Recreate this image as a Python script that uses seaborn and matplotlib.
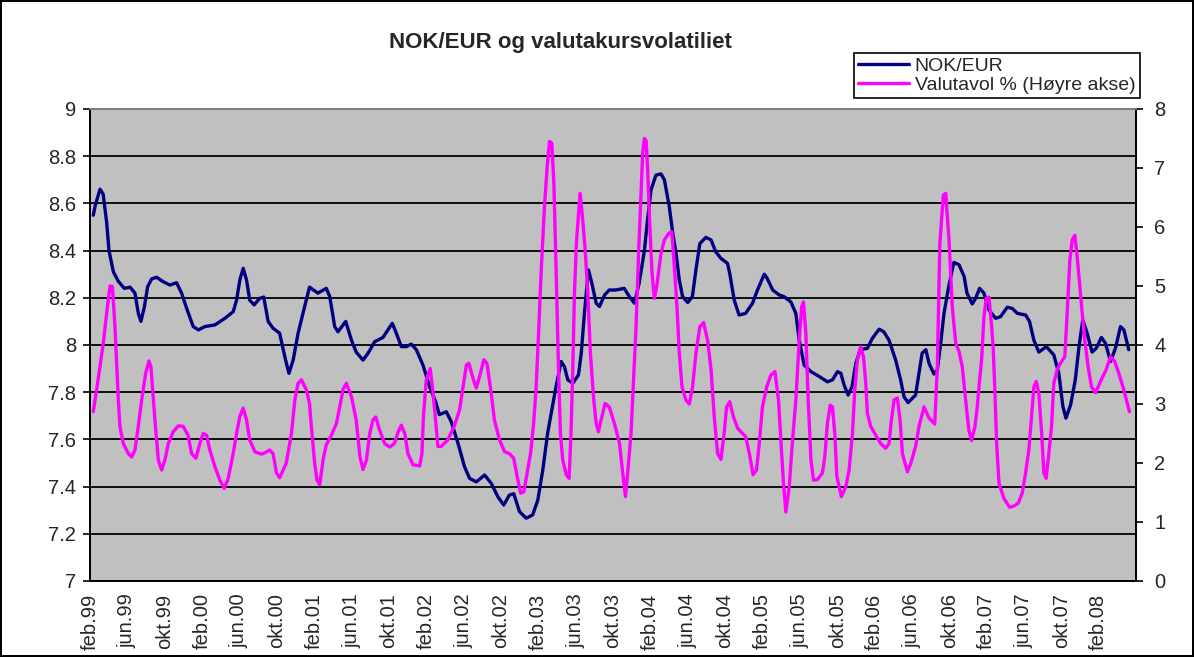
import matplotlib
matplotlib.use("Agg")
import matplotlib.pyplot as plt
import seaborn as sns
import pandas as pd
from matplotlib.lines import Line2D

# months since feb.99 and NOK/EUR readings
nok_month = [0.35, 0.55, 1.07, 1.4, 1.78, 2.03, 2.5, 3.03, 3.67, 4.28, 4.81, 5.17, 5.45, 5.81,
             6.17, 6.6, 7.13, 7.84, 8.56, 9.27, 9.8, 10.34, 11.05, 11.6, 12.3, 13.37, 14.44,
             15.33, 15.69, 16.04, 16.4, 16.76, 17.1, 17.57, 18.18, 18.6, 19.07, 19.6, 20.3,
             20.86, 21.3, 21.75, 22.28, 22.8, 23.5, 24.4, 25.3, 25.67, 26.2, 26.55, 27.38, 28.0,
             28.5, 29.23, 29.77, 30.48, 31.37, 31.9, 32.36, 32.8, 33.33, 33.87, 34.4, 34.94,
             35.65, 36.36, 37.0, 37.4, 38.15, 38.68, 39.4, 40.1, 40.64, 41.36, 42.25, 42.96,
             43.67, 44.3, 44.9, 45.37, 45.99, 46.7, 47.4, 47.95, 48.48, 49.0, 49.38, 49.9,
             50.45, 50.8, 51.16, 51.7, 52.3, 52.6, 52.94, 53.37, 53.7, 54.2, 54.55, 55.1,
             55.6, 56.3, 57.2, 57.75, 58.3, 58.8, 59.36, 59.7, 60.07, 60.6, 61.14, 61.5, 62.03,
             62.4, 62.75, 63.1, 63.45, 64.0, 64.5, 64.88, 65.3, 65.95, 66.5, 67.0, 67.56, 68.26,
             68.5, 68.98, 69.5, 70.2, 70.94, 71.47, 72.2, 72.5, 73.1, 73.8, 74.3, 75.04, 75.58,
             75.94, 76.47, 77.2, 78.1, 78.96, 79.5, 80.04, 80.4, 80.75, 81.18, 81.6, 82.0,
             82.46, 83.24, 83.77, 84.5, 85.0, 85.56, 86.27, 86.8, 87.17, 87.6, 88.4, 88.77,
             89.1, 89.5, 89.84, 90.37, 90.73, 91.09, 91.44, 91.98, 92.5, 93.05, 93.6, 93.9,
             94.47, 94.83, 95.25, 95.72, 96.26, 96.97, 97.5, 98.22, 98.75, 99.3, 100.18, 100.6,
             101.07, 101.6, 102.4, 103.2, 103.74, 104.17, 104.5, 105.0, 105.5, 105.9, 106.3,
             106.77, 107.3, 107.74, 108.3, 108.74, 109.27, 109.8, 110.34, 110.7, 111.23]
nok_value = [8.55, 8.59, 8.66, 8.64, 8.52, 8.40, 8.31, 8.27, 8.24, 8.245, 8.22, 8.134, 8.10, 8.16,
             8.247, 8.28, 8.287, 8.268, 8.254, 8.264, 8.22, 8.156, 8.078, 8.064, 8.078, 8.085,
             8.113, 8.141, 8.19, 8.275, 8.325, 8.275, 8.19, 8.17, 8.198, 8.203, 8.10, 8.071,
             8.05, 7.95, 7.88, 7.936, 8.05, 8.134, 8.245, 8.22, 8.24, 8.205, 8.078, 8.056, 8.10,
             8.02, 7.97, 7.936, 7.965, 8.014, 8.032, 8.064, 8.092, 8.05, 7.993, 7.993, 8.004,
             7.98, 7.915, 7.824, 7.76, 7.705, 7.717, 7.675, 7.584, 7.484, 7.435, 7.42, 7.449,
             7.414, 7.357, 7.322, 7.364, 7.37, 7.294, 7.266, 7.28, 7.343, 7.47, 7.626, 7.71,
             7.824, 7.93, 7.908, 7.852, 7.838, 7.873, 7.965, 8.134, 8.318, 8.268, 8.177, 8.163,
             8.212, 8.233, 8.233, 8.24, 8.205, 8.177, 8.262, 8.40, 8.53, 8.657, 8.72, 8.725,
             8.70, 8.586, 8.473, 8.389, 8.275, 8.205, 8.18, 8.205, 8.318, 8.43, 8.456, 8.445,
             8.395, 8.367, 8.346, 8.303, 8.19, 8.127, 8.134, 8.177, 8.233, 8.30, 8.283, 8.233,
             8.212, 8.205, 8.183, 8.134, 8.02, 7.915, 7.887, 7.866, 7.844, 7.852, 7.887, 7.88,
             7.83, 7.788, 7.824, 7.922, 7.98, 7.986, 8.028, 8.067, 8.056, 8.02, 7.936, 7.852,
             7.78, 7.756, 7.788, 7.88, 7.965, 7.98, 7.922, 7.877, 7.894, 8.007, 8.134, 8.254,
             8.35, 8.34, 8.29, 8.22, 8.174, 8.198, 8.24, 8.22, 8.148, 8.113, 8.12, 8.16, 8.155,
             8.134, 8.127, 8.10, 8.02, 7.97, 7.993, 7.958, 7.88, 7.74, 7.69, 7.746, 7.852,
             7.993, 8.106, 8.05, 7.97, 7.986, 8.032, 8.007, 7.93, 7.986, 8.078, 8.064, 7.98]

# months since feb.99 and volatility readings (right axis)
vol_month = [0.35, 0.89, 1.42, 1.78, 2.14, 2.4, 2.67, 3.03, 3.2, 3.56, 4.1, 4.46, 4.81, 5.17,
             5.53, 5.96, 6.31, 6.52, 6.95, 7.31, 7.67, 8.02, 8.38, 8.91, 9.45, 9.98, 10.5,
             10.87, 11.34, 11.76, 12.12, 12.48, 12.83, 13.37, 13.9, 14.37, 14.8, 15.33, 15.69,
             16.04, 16.4, 16.76, 17.1, 17.65, 18.36, 18.7, 19.25, 19.6, 19.97, 20.3, 21.0,
             21.57, 21.93, 22.28, 22.64, 23.17, 23.5, 23.7, 24.06, 24.3, 24.6, 24.95, 25.3,
             25.85, 26.38, 26.74, 27.1, 27.45, 28.0, 28.5, 28.9, 29.23, 29.6, 29.95, 30.3, 30.6,
             31.0, 31.55, 32.1, 32.6, 33.0, 33.33, 33.7, 34.04, 34.58, 35.3, 35.54, 35.7, 36.0,
             36.43, 36.7, 37.0, 37.25, 37.6, 38.3, 39.0, 39.57, 39.9, 40.3, 40.57, 41.0, 41.36,
             41.7, 42.17, 42.5, 42.96, 43.3, 43.85, 44.4, 44.9, 45.37, 45.74, 46.1, 46.45, 46.8,
             47.17, 47.5, 47.77, 48.0, 48.3, 48.66, 48.95, 49.2, 49.45, 49.67, 49.9, 50.16,
             50.37, 50.62, 51.0, 51.3, 51.5, 51.7, 51.87, 52.1, 52.34, 52.48, 52.76, 53.02,
             53.3, 53.58, 53.94, 54.2, 54.44, 54.73, 55.15, 55.6, 56.15, 56.7, 57.04, 57.33,
             57.57, 57.93, 58.18, 58.47, 58.75, 59.0, 59.18, 59.36, 59.54, 59.7, 59.9, 60.18,
             60.43, 60.68, 60.96, 61.14, 61.5, 61.96, 62.3, 62.57, 62.85, 63.1, 63.39, 63.8,
             64.17, 64.52, 64.88, 65.3, 65.7, 66.13, 66.5, 66.84, 67.2, 67.56, 67.9, 68.16,
             68.5, 68.88, 69.34, 69.87, 70.2, 70.6, 71.0, 71.37, 71.66, 72.0, 72.46, 72.9,
             73.34, 73.72, 73.98, 74.23, 74.51, 74.87, 75.2, 75.58, 75.94, 76.2, 76.4, 76.65,
             76.9, 77.2, 77.47, 77.9, 78.43, 78.68, 78.96, 79.25, 79.5, 79.75, 79.97, 80.45,
             80.93, 81.28, 81.64, 81.89, 82.17, 82.53, 82.82, 83.07, 83.24, 83.6, 84.14, 84.67,
             85.2, 85.56, 85.81, 86.1, 86.45, 86.74, 86.99, 87.52, 87.88, 88.4, 88.77, 89.3,
             89.84, 90.45, 90.73, 91.0, 91.37, 91.63, 91.98, 92.33, 92.7, 93.05, 93.4, 93.76,
             94.1, 94.4, 94.76, 95.0, 95.26, 95.47, 95.72, 95.97, 96.26, 96.55, 96.72, 96.9,
             97.08, 97.33, 97.86, 98.47, 98.93, 99.4, 99.82, 100.18, 100.53, 100.82, 101.07,
             101.32, 101.6, 101.9, 102.14, 102.38, 102.67, 102.96, 103.2, 103.56, 103.9,
             104.38, 104.63, 104.92, 105.17, 105.45, 105.7, 105.96, 106.24, 106.52, 106.88,
             107.24, 107.67, 107.95, 108.37, 108.8, 109.27, 109.73, 110.16, 110.7, 111.3]
vol_value = [2.87, 3.44, 4.03, 4.54, 5.0, 4.99, 4.31, 3.07, 2.62, 2.33, 2.16, 2.1, 2.22, 2.62,
             3.07, 3.52, 3.73, 3.63, 2.73, 2.05, 1.88, 2.05, 2.33, 2.53, 2.63, 2.62, 2.47, 2.16,
             2.08, 2.33, 2.5, 2.47, 2.22, 1.94, 1.71, 1.57, 1.74, 2.16, 2.5, 2.79, 2.93, 2.73,
             2.39, 2.19, 2.15, 2.17, 2.22, 2.16, 1.83, 1.75, 1.99, 2.5, 3.07, 3.35, 3.41, 3.24,
             3.01, 2.62, 1.99, 1.71, 1.63, 2.05, 2.31, 2.47, 2.67, 2.95, 3.25, 3.35, 3.12, 2.73,
             2.11, 1.89, 2.05, 2.5, 2.73, 2.78, 2.56, 2.33, 2.27, 2.33, 2.53, 2.64, 2.5, 2.16,
             1.97, 1.95, 2.16, 2.78, 3.41, 3.6, 3.24, 2.73, 2.28, 2.28, 2.39, 2.62, 2.9, 3.24,
             3.66, 3.69, 3.44, 3.27, 3.46, 3.75, 3.69, 3.18, 2.73, 2.39, 2.19, 2.16, 2.08, 1.77,
             1.49, 1.51, 1.83, 2.16, 2.67, 3.29, 4.08, 5.22, 6.34, 7.02, 7.45, 7.42, 6.74, 5.33,
             3.63, 2.5, 2.05, 1.8, 1.74, 2.5, 3.63, 4.88, 5.78, 6.29, 6.57, 6.12, 5.61, 4.88,
             3.86, 3.07, 2.67, 2.53, 2.73, 3.01, 2.95, 2.67, 2.33, 1.83, 1.43, 1.83, 2.5, 3.35,
             4.31, 5.61, 6.57, 7.25, 7.5, 7.47, 7.02, 6.17, 5.22, 4.79, 4.99, 5.33, 5.55, 5.78,
             5.89, 5.92, 5.33, 4.65, 3.86, 3.29, 3.07, 3.0, 3.29, 3.86, 4.31, 4.38, 4.08, 3.58,
             2.79, 2.16, 2.06, 2.5, 2.95, 3.04, 2.79, 2.59, 2.5, 2.45, 2.16, 1.8, 1.88, 2.33,
             2.95, 3.29, 3.49, 3.55, 3.07, 2.39, 1.71, 1.17, 1.6, 2.33, 3.07, 4.08, 4.65, 4.73,
             4.2, 3.07, 2.05, 1.71, 1.72, 1.83, 2.11, 2.67, 2.98, 2.95, 2.5, 1.77, 1.43, 1.6,
             1.88, 2.5, 3.24, 3.75, 3.97, 3.8, 3.35, 2.84, 2.62, 2.47, 2.33, 2.25, 2.33, 2.73,
             3.07, 3.1, 2.73, 2.16, 1.85, 1.99, 2.28, 2.62, 2.95, 2.76, 2.66, 3.63, 5.72, 6.54,
             6.57, 5.78, 4.65, 4.03, 3.89, 3.63, 3.07, 2.56, 2.38, 2.62, 2.95, 3.41, 3.75, 4.48,
             4.79, 4.81, 4.31, 3.92, 3.18, 2.33, 1.66, 1.4, 1.25, 1.27, 1.32, 1.49, 1.83, 2.22,
             2.79, 3.29, 3.38, 3.18, 2.5, 1.83, 1.74, 2.16, 2.62, 3.35, 3.58, 3.69, 3.8, 4.54,
             5.44, 5.78, 5.86, 5.5, 5.05, 4.54, 4.08, 3.63, 3.29, 3.19, 3.29, 3.44, 3.58, 3.8,
             3.72, 3.52, 3.24, 2.87]

tick_labels = ["feb.99", "jun.99", "okt.99", "feb.00", "jun.00", "okt.00", "feb.01",
               "jun.01", "okt.01", "feb.02", "jun.02", "okt.02", "feb.03", "jun.03",
               "okt.03", "feb.04", "jun.04", "okt.04", "feb.05", "jun.05", "okt.05",
               "feb.06", "jun.06", "okt.06", "feb.07", "jun.07", "okt.07", "feb.08"]

nok = pd.DataFrame({"month": nok_month, "value": nok_value})
vol = pd.DataFrame({"month": vol_month, "value": vol_value})

sns.set_style("white")
plt.rcParams["font.family"] = ["Liberation Sans", "DejaVu Sans"]

fig = plt.figure(figsize=(11.94, 6.57), dpi=100)
fig.patch.set_edgecolor("black")
fig.patch.set_linewidth(1.5)
ax = fig.add_axes([0.0754, 0.1157, 0.8760, 0.7184])
ax.set_facecolor("#C0C0C0")

sns.lineplot(data=nok, x="month", y="value", ax=ax, color="#000080", linewidth=2.4,
             sort=False)
ax.set_ylim(7, 9)
ax.set_yticks([7 + 0.2 * i for i in range(11)])
ax.set_yticklabels(["7", "7.2", "7.4", "7.6", "7.8", "8", "8.2", "8.4", "8.6", "8.8", "9"])
ax.yaxis.grid(True, color="black", linewidth=1.3)
ax.set_axisbelow(True)
ax.set_xlim(0, 112)
ax.set_xticks(range(0, 109, 4))
ax.set_xticklabels(tick_labels, rotation=90)
ax.set_xlabel("")
ax.set_ylabel("")
ax.tick_params(axis="both", direction="out", length=5, width=1.2, color="black",
               labelsize=14.5, pad=5)
ax.tick_params(axis="x", labelsize=14.5, pad=4)

ax2 = ax.twinx()
sns.lineplot(data=vol, x="month", y="value", ax=ax2, color="#FF00FF", linewidth=2.4,
             sort=False)
ax2.set_ylim(0, 8)
ax2.set_yticks(range(0, 9))
ax2.set_ylabel("")
ax2.tick_params(axis="y", direction="out", length=5, width=1.2, color="black",
                labelsize=14.5, pad=8)

for a in (ax, ax2):
    a.spines["top"].set_color("#808080")
    a.spines["left"].set_color("black")
    a.spines["right"].set_color("black")
    a.spines["bottom"].set_color("black")
    for s in a.spines.values():
        s.set_linewidth(1.3)

fig.text(0.469, 0.936, "NOK/EUR og valutakursvolatiliet", ha="center", va="center",
         fontsize=16, fontweight="bold")

handles = [Line2D([], [], color="#000080", linewidth=2.4),
           Line2D([], [], color="#FF00FF", linewidth=2.4)]
leg = fig.legend(handles, ["NOK/EUR", "Valutavol % (Høyre akse)"],
                 loc="upper right", bbox_to_anchor=(0.955, 0.92), fontsize=14,
                 frameon=True, fancybox=False, edgecolor="black", framealpha=1,
                 handlelength=2.6, handletextpad=0.3, borderpad=0.25, labelspacing=0.05,
                 borderaxespad=0)
leg.get_frame().set_linewidth(1.2)

fig.savefig("out.png", dpi=100)
